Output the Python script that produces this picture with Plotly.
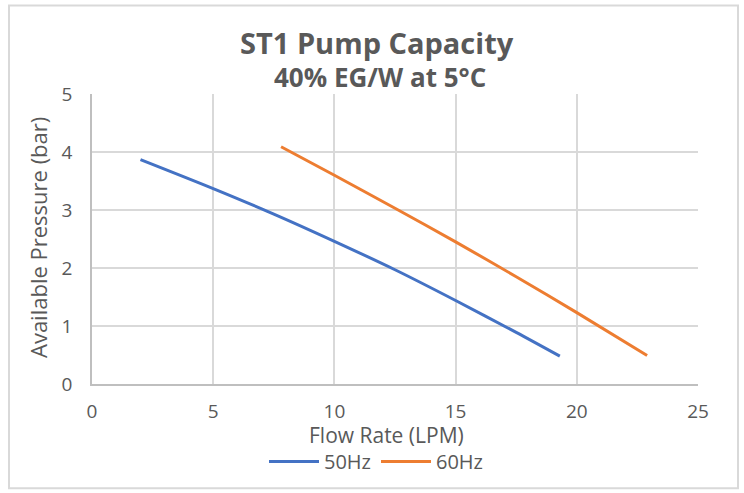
import plotly.graph_objects as go

# Data
flow_50hz = [2.0, 5.0, 7.5, 10.0, 12.5, 15.0, 17.5, 19.3]
pressure_50hz = [3.87, 3.37, 2.93, 2.46, 1.97, 1.44, 0.89, 0.48]

flow_60hz = [7.8, 10.0, 12.5, 15.0, 17.5, 20.0, 22.9]
pressure_60hz = [4.09, 3.60, 3.03, 2.45, 1.85, 1.23, 0.49]

series_names = ["50Hz", "60Hz"]
x_ticks = [0, 5, 10, 15, 20, 25]
y_ticks = [0, 1, 2, 3, 4, 5]

title_text = "ST1 Pump Capacity"
subtitle_text = "40% EG/W at 5°C"
x_title = "Flow Rate (LPM)"
y_title = "Available Pressure (bar)"

FONT = "Open Sans, sans-serif"
GRAY = "#595959"

fig = go.Figure()
fig.add_trace(go.Scatter(x=flow_50hz, y=pressure_50hz, mode="lines", name=series_names[0],
                         line=dict(color="#4472C4", width=3, shape="spline", smoothing=0.8)))
fig.add_trace(go.Scatter(x=flow_60hz, y=pressure_60hz, mode="lines", name=series_names[1],
                         line=dict(color="#ED7D31", width=3, shape="spline", smoothing=0.8)))

L, R, T, B = 92, 46, 94, 107
W, H = 744, 493
pw, ph = W - L - R, H - T - B

def px(xp):
    return (xp - L) / pw

def py(yp):
    return (H - B - yp) / ph

fig.update_layout(
    width=W, height=H,
    margin=dict(l=L, r=R, t=T, b=B),
    paper_bgcolor="white", plot_bgcolor="white",
    font=dict(family=FONT, color=GRAY, size=20),
    showlegend=True,
    legend=dict(orientation="h", x=px(376), xanchor="center", y=py(464), yanchor="middle",
                font=dict(size=20, color=GRAY), itemwidth=50, traceorder="normal",
                bgcolor="rgba(0,0,0,0)"),
    xaxis=dict(range=[0, 25], tickvals=x_ticks, showgrid=True, gridcolor="#D9D9D9", gridwidth=1.5,
               zeroline=False, showline=True, linecolor="#BFBFBF", linewidth=1.5,
               ticks="", ticklabelstandoff=9, tickfont=dict(size=19, color=GRAY), fixedrange=True),
    yaxis=dict(range=[0, 5], tickvals=y_ticks, showgrid=True, gridcolor="#D9D9D9", gridwidth=1.5,
               zeroline=False, showline=True, linecolor="#BFBFBF", linewidth=1.5,
               ticks="", ticklabelstandoff=14, tickfont=dict(size=19, color=GRAY), fixedrange=True),
    shapes=[dict(type="rect", xref="paper", yref="paper",
                 x0=px(9), x1=px(738), y0=py(491), y1=py(5),
                 line=dict(color="#D9D9D9", width=2), fillcolor="rgba(0,0,0,0)", layer="below")],
    annotations=[
        dict(text="<b>" + title_text + "</b>", xref="paper", yref="paper", x=px(377), y=py(42),
             showarrow=False, font=dict(size=29, color=GRAY), xanchor="center", yanchor="middle"),
        dict(text="<b>" + subtitle_text + "</b>", xref="paper", yref="paper", x=px(380), y=py(77),
             showarrow=False, font=dict(size=26, color=GRAY), xanchor="center", yanchor="middle"),
        dict(text=x_title, xref="paper", yref="paper", x=px(386), y=py(437),
             showarrow=False, font=dict(size=21, color=GRAY), xanchor="center", yanchor="middle"),
        dict(text=y_title, xref="paper", yref="paper", x=px(38), y=py(239), textangle=-90,
             showarrow=False, font=dict(size=22, color=GRAY), xanchor="center", yanchor="middle"),
    ],
)

fig.write_html("out.html", config={"displayModeBar": False},
               post_script="document.body.style.margin='0';")
